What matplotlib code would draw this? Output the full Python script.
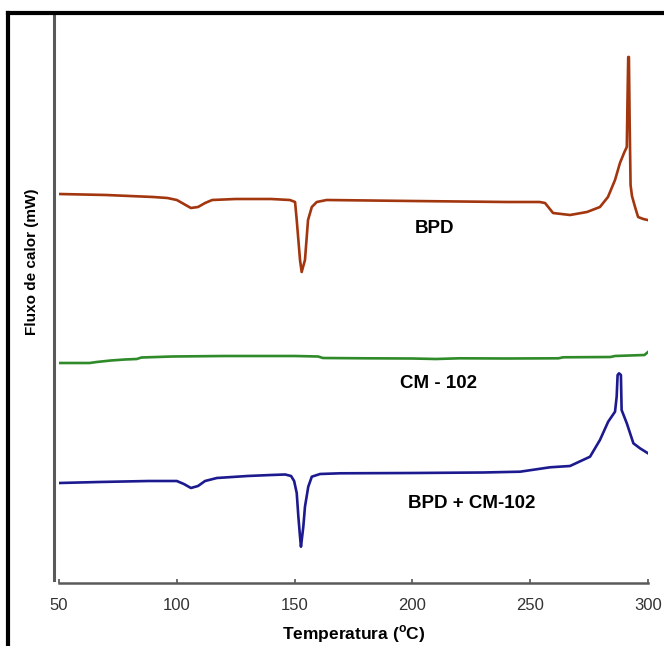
import numpy as np
import matplotlib.pyplot as plt
from matplotlib.lines import Line2D

plt.rcParams['font.family'] = ['Liberation Sans', 'DejaVu Sans']

# Curvas DSC (fluxo de calor, unidades arbitrárias)
t_bpd = [50, 60, 70, 80, 90, 96, 100, 103, 106, 109, 112, 115, 125, 140, 148,
         150.2, 150.9, 152.3, 153.0, 154.4, 155.7, 157.3, 159.4, 163.6, 200, 240,
         254, 256.3, 258, 259.7, 266.9, 274.1, 279.6, 283.0, 286.0, 288.1, 290.0,
         291.0, 291.3, 291.6, 291.9, 292.2, 292.6, 293.2, 294.5, 295.8, 298, 299.8]
y_bpd = [389, 388.5, 388, 387, 386, 385, 383, 379, 375, 376, 380, 383, 384, 384, 383,
         381, 363, 323, 311, 323, 363, 376, 381, 383, 382, 381,
         381, 380, 375, 370, 368, 371, 376, 386, 403, 420, 431,
         436, 483, 526, 526, 463, 398, 387, 376, 366, 364, 363]

t_cm = [50, 63, 66, 72, 78, 83, 85, 98, 120, 150, 160, 162, 180, 200, 210, 220,
        240, 262, 264, 284, 286, 298.5, 299.5, 300]
y_cm = [220, 220, 221, 222.5, 223.5, 224, 225.5, 226.5, 227, 227, 226.5, 225, 224.7,
        224.5, 224, 224.7, 224.5, 224.7, 225.7, 226, 227, 228, 230, 231]

t_mix = [50, 67, 88, 100, 103, 106, 109, 112, 117, 130, 140, 146, 148.5, 149.8,
         150.9, 151.6, 152.3, 152.7, 153.7, 154.4, 155.8, 157.3, 160.8, 169.3, 200,
         230, 245.7, 258.4, 266.9, 275.4, 279.6, 283.1, 286.0, 286.7, 287.1, 287.7,
         288.5, 288.8, 291.0, 293.8, 296.6, 300]
y_mix = [100, 101, 102, 102, 99, 95, 97, 102, 105, 107, 108, 108.5, 107, 102,
         90, 66.3, 46.3, 36.3, 56.3, 76.3, 96.3, 106.3, 109, 109.7, 110,
         110.5, 111.3, 115.7, 117, 126.3, 143, 161.3, 171.3, 186.3, 208, 209.7,
         208, 173, 159.7, 139.7, 134.7, 129.7]

xticks = [50, 100, 150, 200, 250, 300]

fig = plt.figure(figsize=(6.64, 6.46), dpi=100)
ax = fig.add_axes([59 / 664, 63 / 646, 589 / 664, 569 / 646])

ax.plot(t_bpd, y_bpd, color='#a2360f', lw=1.9)
ax.plot(t_cm, y_cm, color='#2f8a2a', lw=1.9)
ax.plot(t_mix, y_mix, color='#1c1a8e', lw=1.9)

ax.text(209.5, 355, 'BPD', ha='center', va='center', fontsize=13.5, fontweight='bold')
ax.text(211, 200, 'CM - 102', ha='center', va='center', fontsize=13.5, fontweight='bold')
ax.text(225, 80, 'BPD + CM-102', ha='center', va='center', fontsize=13.5, fontweight='bold')

ax.set_xlim(50, 300)
ax.set_ylim(0, 569)
ax.set_xticks(xticks)
ax.set_yticks([])
ax.tick_params(axis='x', direction='in', length=3, width=1.2, colors='#555555',
               labelcolor='#333333', labelsize=12, pad=11)

for s in ['top', 'right']:
    ax.spines[s].set_visible(False)
ax.spines['left'].set_position(('outward', 3.6))
ax.spines['left'].set_bounds(3, 569)
ax.spines['left'].set_color('#5a5a5a')
ax.spines['left'].set_linewidth(2.2)
ax.spines['bottom'].set_color('#5a5a5a')
ax.spines['bottom'].set_linewidth(1.8)

ax.set_xlabel('Temperatura ($^{\\mathregular{o}}$C)', fontsize=12.5, fontweight='bold',
              labelpad=7)
fig.text(32 / 664, 1 - 262 / 646, 'Fluxo de calor (mW)', rotation=90, ha='center',
         va='center', fontsize=11, fontweight='bold')

# moldura da figura
fig.add_artist(Line2D([8 / 664, 1], [1 - 13 / 646, 1 - 13 / 646], color='black', lw=3,
                      transform=fig.transFigure))
fig.add_artist(Line2D([8 / 664, 8 / 664], [0, 1 - 13 / 646], color='black', lw=3,
                      transform=fig.transFigure))

fig.savefig('out.png', dpi=100)
